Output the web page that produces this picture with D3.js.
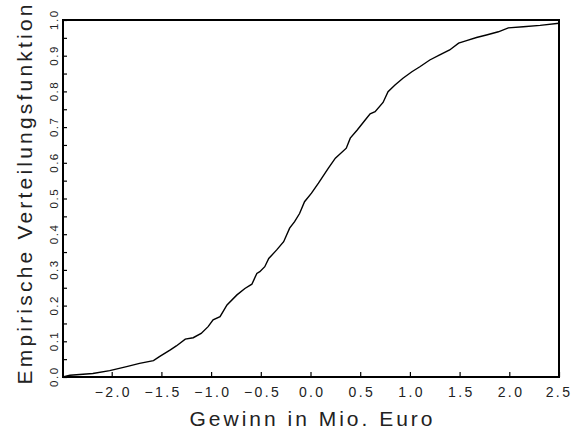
<!DOCTYPE html>
<html>
<head>
<meta charset="utf-8">
<script src="https://cdn.jsdelivr.net/npm/d3@7"></script>
<style>
  body { margin: 0; background: #fff; }
  svg { display: block; }
  text { font-family: "Liberation Sans", Arial, sans-serif; fill: #222; }
</style>
</head>
<body>
<svg id="chart" width="572" height="433"></svg>
<script>
var gewinn = [-2.49, -2.42, -2.19, -2.02, -1.85, -1.72, -1.58, -1.52, -1.41, -1.35, -1.26, -1.18, -1.10, -1.03,
  -0.98, -0.91, -0.84, -0.74, -0.66, -0.59, -0.54, -0.51, -0.46, -0.42, -0.34, -0.27, -0.21, -0.16,
  -0.11, -0.06, 0.01, 0.08, 0.18, 0.25, 0.36, 0.40, 0.47, 0.55, 0.60, 0.65, 0.73, 0.78, 0.85, 0.93,
  1.02, 1.10, 1.20, 1.30, 1.40, 1.49, 1.57, 1.67, 1.77, 1.89, 1.99, 2.14, 2.31, 2.50];
var ecdf = [0.000, 0.005, 0.010, 0.018, 0.029, 0.038, 0.046, 0.057, 0.076, 0.087, 0.106, 0.110, 0.122, 0.141,
  0.160, 0.169, 0.202, 0.230, 0.248, 0.260, 0.290, 0.295, 0.309, 0.332, 0.356, 0.379, 0.417, 0.435,
  0.458, 0.491, 0.515, 0.543, 0.585, 0.613, 0.641, 0.669, 0.692, 0.720, 0.737, 0.743, 0.769, 0.799, 0.818, 0.837,
  0.855, 0.869, 0.888, 0.902, 0.916, 0.935, 0.942, 0.951, 0.958, 0.967, 0.978, 0.981, 0.985, 0.991];
var xTicks = [-2.0, -1.5, -1.0, -0.5, 0.0, 0.5, 1.0, 1.5, 2.0, 2.5];
var yTicks = d3.range(0, 21).map(function (i) { return i * 0.05; });
var xTitle = "Gewinn in Mio. Euro";
var yTitle = "Empirische Verteilungsfunktion";

var margin = { top: 20, right: 13, bottom: 56, left: 63 },
  width = 572 - margin.left - margin.right,
  height = 433 - margin.top - margin.bottom;

var svg = d3.select("#chart").append("g")
  .attr("transform", "translate(" + margin.left + "," + margin.top + ")");

var x = d3.scaleLinear().domain([-2.49, 2.5]).range([0, width]);
var y = d3.scaleLinear().domain([0, 1]).range([height, 0]);
var fmt = d3.format(".1f");

// x axis, ticks point inward
var gx = svg.append("g")
  .attr("transform", "translate(0," + height + ")")
  .call(d3.axisBottom(x).tickValues(xTicks).tickSize(-5).tickFormat(fmt));
gx.select(".domain").remove();
gx.selectAll("line").attr("stroke", "#000").attr("stroke-width", 1.2);
gx.selectAll("text")
  .attr("y", 20).attr("dy", 0)
  .attr("dx", function (d) { return d === 2.5 ? -0.5 : 1.2; })
  .style("font-size", "14px").style("letter-spacing", "2.4px");

// y axis
var gy = svg.append("g")
  .call(d3.axisLeft(y).tickValues(yTicks).tickSize(-4)
    .tickFormat(function (d, i) { return i % 2 === 0 ? fmt(d) : ""; }));
gy.select(".domain").remove();
gy.selectAll("line").attr("stroke", "#000").attr("stroke-width", 1.2);
gy.selectAll("text")
  .attr("x", 0).attr("dy", 0)
  .attr("transform", "translate(-5.5,0) rotate(-90)")
  .attr("dx", 0.8)
  .style("text-anchor", "middle")
  .style("font-size", "11.5px").style("letter-spacing", "1.5px");

// frame
svg.append("rect")
  .attr("width", width).attr("height", height)
  .attr("fill", "none").attr("stroke", "#000").attr("stroke-width", 2);

// curve
var pts = gewinn.map(function (g, i) { return [g, ecdf[i]]; });
svg.append("path")
  .datum(pts)
  .attr("fill", "none")
  .attr("stroke", "#000")
  .attr("stroke-width", 1.4)
  .attr("d", d3.line().x(function (d) { return x(d[0]); }).y(function (d) { return y(d[1]); }));

// titles
svg.append("text")
  .attr("x", width / 2 + 1.5).attr("y", height + 48.5)
  .style("text-anchor", "middle")
  .style("font-size", "21px").style("letter-spacing", "3px")
  .text(xTitle);

svg.append("text")
  .attr("transform", "translate(" + (31.5 - margin.left) + "," + (height / 2 - 4) + ") rotate(-90)")
  .attr("dx", 1.6)
  .style("text-anchor", "middle")
  .style("font-size", "21px").style("letter-spacing", "3.2px")
  .text(yTitle);
</script>
</body>
</html>
